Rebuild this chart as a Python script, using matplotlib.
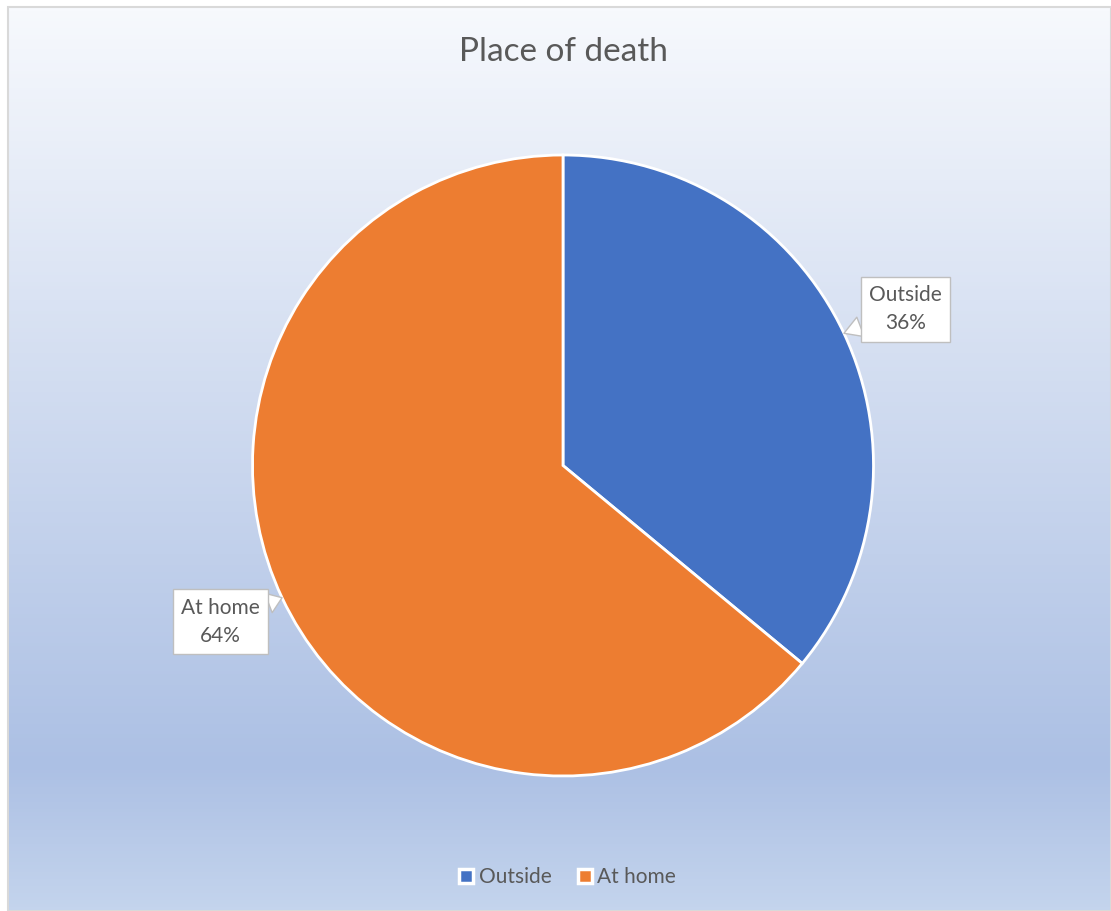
import numpy as np
import matplotlib

matplotlib.use("Agg")

import matplotlib.pyplot as plt
from matplotlib.colors import LinearSegmentedColormap
from matplotlib.patches import Rectangle

labels = ["Outside", "At home"]
shares = [36, 64]
colors = ["#4472C4", "#ED7D31"]
title = "Place of death"

plt.rcParams["font.family"] = ["Lato", "DejaVu Sans"]
text_color = "#595959"

fig = plt.figure(figsize=(11.11, 9.11), dpi=100)
fig.patch.set_facecolor("white")

# gradient background
bg = fig.add_axes([8 / 1111, 0, 1 - 8 / 1111, 1 - 7 / 911])
bg.set_axis_off()
cmap = LinearSegmentedColormap.from_list(
    "bg", [(0, "#F7F9FD"), (0.84, "#ACC0E4"), (1, "#C4D4ED")]
)
grad = np.linspace(0, 1, 256).reshape(-1, 1)
bg.imshow(grad, cmap=cmap, aspect="auto", extent=[0, 1, 0, 1])
bg.add_patch(Rectangle((0, 0), 1, 1, transform=bg.transAxes, fill=False,
                       ec="#D9D9D9", lw=1.5, clip_on=False))

fig.text(563 / 1111, 1 - 52 / 911, title, ha="center", va="center",
         fontsize=24, color=text_color)

ax = fig.add_axes([252 / 1111, 135 / 911, 622 / 1111, 621 / 911])
wedges, _ = ax.pie(shares, colors=colors, startangle=90, counterclock=False,
                   radius=1, wedgeprops=dict(edgecolor="white", linewidth=2))
ax.set_xlim(-1.0, 1.0)
ax.set_ylim(-1.0, 1.0)
ax.set_aspect("equal")

for w, lab, val in zip(wedges, labels, shares):
    ang = np.deg2rad((w.theta1 + w.theta2) / 2)
    tip = (np.cos(ang), np.sin(ang))
    pos = (1.22 * np.cos(ang), 1.18 * np.sin(ang))
    ax.annotate(f"{lab}\n{val}%", xy=tip, xytext=pos, ha="center", va="center",
                fontsize=15, color=text_color, linespacing=1.5,
                bbox=dict(boxstyle="square,pad=0.4", fc="white", ec="#BFBFBF", lw=1),
                arrowprops=dict(arrowstyle="wedge,tail_width=1.0,shrink_factor=0.5",
                                fc="white", ec="#BFBFBF", lw=1, shrinkA=0, shrinkB=0),
                annotation_clip=False)

handles = [plt.Line2D([], [], marker="s", ls="", markersize=10, markerfacecolor=c,
                      markeredgecolor="white", markeredgewidth=2.5) for c in colors]
fig.legend(handles, labels, loc="center", bbox_to_anchor=(565 / 1111, 1 - 877 / 911),
           ncol=2, frameon=False, fontsize=15, labelcolor=text_color,
           handletextpad=0.0, columnspacing=1.0, handlelength=1.2)

fig.savefig("out.png", dpi=100)
